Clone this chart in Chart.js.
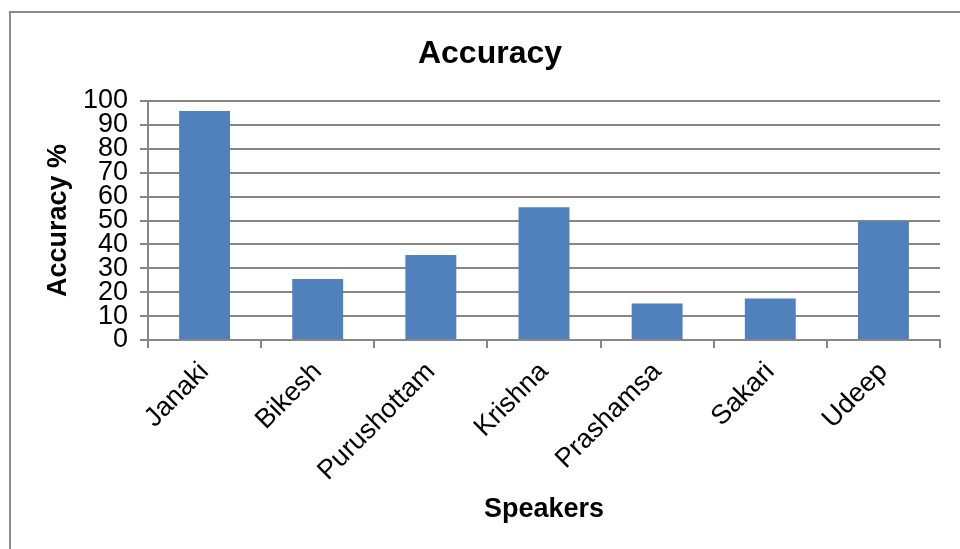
<!DOCTYPE html>
<html>
<head>
<meta charset="utf-8">
<script src="https://cdn.jsdelivr.net/npm/chart.js@4/dist/chart.umd.min.js"></script>
<style>
    html, body { margin: 0; padding: 0; background: #fff; overflow: hidden; }
    #frame { position: absolute; left: 9px; top: 11px; width: 1000px; height: 600px;
             border-left: 2px solid #8c8c8c; border-top: 2px solid #8c8c8c; }
    #wrap { position: absolute; left: 0; top: 0; width: 960px; height: 549px; }
</style>
</head>
<body>
<div id="frame"></div>
<div id="wrap"><canvas id="accuracyChart" width="960" height="549"></canvas></div>
<script>
// dados
const speakers = ['Janaki', 'Bikesh', 'Purushottam', 'Krishna', 'Prashamsa', 'Sakari', 'Udeep'];
const accuracy = [95.8, 25.5, 35.6, 55.5, 15.3, 17.4, 49.7];
const yTicks = [0, 10, 20, 30, 40, 50, 60, 70, 80, 90, 100];

const gridColor = '#868686';
const fontFamily = '"Liberation Sans", Arial, sans-serif';

const ctx = document.getElementById('accuracyChart').getContext('2d');
new Chart(ctx, {
    type: 'bar',
    data: {
        labels: speakers,
        datasets: [{ label: 'Accuracy', data: accuracy, backgroundColor: '#4F81BD',
                     barPercentage: 0.45, categoryPercentage: 1 }]
    },
    options: {
        responsive: false, animation: false,
        layout: { padding: { left: 40, right: 20, top: 0, bottom: 0 } },
        plugins: {
            legend: { display: false },
            tooltip: { enabled: false },
            title: { display: true, text: 'Accuracy', color: '#000',
                     font: { family: fontFamily, size: 32, weight: 'bold' },
                     padding: { top: 35, bottom: 27.6 } }
        },
        scales: {
            x: {
                offset: true,
                grid: { display: true, drawOnChartArea: false, drawTicks: true, tickLength: 8,
                        offset: true, color: gridColor, lineWidth: 2 },
                border: { display: true, color: gridColor, width: 2 },
                ticks: { color: '#000', font: { family: fontFamily, size: 27 },
                         maxRotation: 45, minRotation: 45, padding: 8, autoSkip: false },
                title: { display: true, text: 'Speakers', color: '#000',
                         font: { family: fontFamily, size: 27, weight: 'bold' },
                         padding: { top: 0, bottom: 22.8 } },
                afterFit: (scale) => { scale.height = 209; }
            },
            y: {
                min: 0, max: 100,
                afterBuildTicks: (scale) => { scale.ticks = yTicks.map(v => ({ value: v })); },
                grid: { color: gridColor, lineWidth: 2, tickLength: 8 },
                border: { display: true, color: gridColor, width: 2 },
                ticks: { color: '#000', font: { family: fontFamily, size: 27 }, padding: 12, autoSkip: false },
                title: { display: true, text: 'Accuracy %', color: '#000',
                         font: { family: fontFamily, size: 27, weight: 'bold' },
                         padding: { top: 2, bottom: 0 } },
                afterFit: (scale) => { scale.width = 108; }
            }
        }
    }
});
</script>
</body>
</html>
